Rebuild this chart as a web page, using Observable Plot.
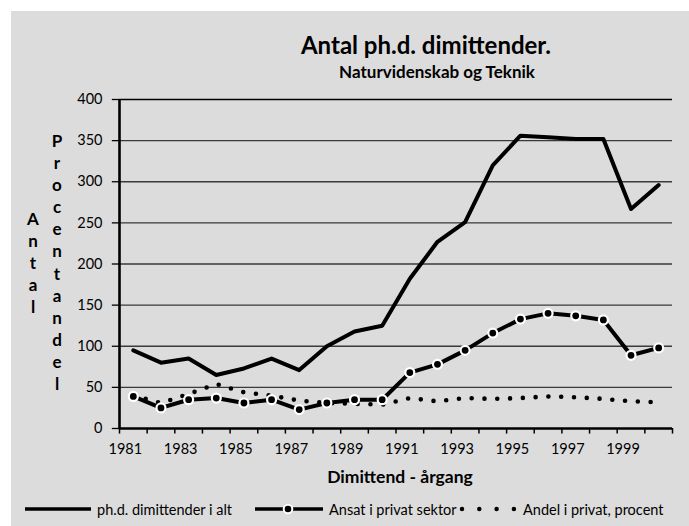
<!DOCTYPE html>
<html>
<head>
<meta charset="utf-8">
<script src="https://cdn.jsdelivr.net/npm/d3@7"></script>
<script src="https://cdn.jsdelivr.net/npm/@observablehq/plot@0.6"></script>
<style>
  body { margin: 0; background: #fff; }
  #wrap { position: relative; width: 689px; height: 526px; overflow: hidden; background: #fff; font-family: Lato, "Open Sans", sans-serif; color: #000; }
  #bg { position: absolute; left: 11px; top: 11px; right: 0; bottom: 0; background: #dcdcdc; }
  #chart { position: absolute; left: 0; top: 0; }
  .t { position: absolute; white-space: nowrap; line-height: 1; }
  .c { transform: translate(-50%, -50%); }
  .vert { writing-mode: vertical-rl; text-orientation: upright; font-weight: bold; font-size: 17px; letter-spacing: 1.1px; transform: translateX(-50%); }
  .leg { position: absolute; top: 499px; height: 20px; display: flex; align-items: center; font-size: 14.5px; white-space: nowrap; }
  .leg svg { display: block; margin-right: 4px; }
</style>
</head>
<body>
<div id="wrap">
  <div id="bg"></div>
  <div id="chart"></div>
  <div class="t c" style="left:426px;top:45px;font-size:24px;font-weight:bold;">Antal ph.d. dimittender.</div>
  <div class="t c" style="left:437px;top:71px;font-size:17px;font-weight:bold;">Naturvidenskab og Teknik</div>
  <div class="t c" style="left:400px;top:477px;font-size:17.5px;font-weight:bold;">Dimittend - årgang</div>
  <div class="t vert" style="left:33px;top:208px;">Antal</div>
  <div class="t vert" style="left:57px;top:130px;">Procentandel</div>
  <div class="leg" style="left:25px;">
    <svg width="68" height="10"><line x1="0" y1="5" x2="66" y2="5" stroke="#000" stroke-width="3.5"/></svg>
    <span>ph.d. dimittender i alt</span>
  </div>
  <div class="leg" style="left:255px;">
    <svg width="70" height="14"><line x1="0" y1="7" x2="68" y2="7" stroke="#000" stroke-width="3.5"/><circle cx="33" cy="7" r="4.3" fill="#000" stroke="#fff" stroke-width="2"/></svg>
    <span>Ansat i privat sektor</span>
  </div>
  <div class="leg" style="left:459px;">
    <svg width="60" height="10"><line x1="3" y1="5" x2="57" y2="5" stroke="#000" stroke-width="4.5" stroke-linecap="round" stroke-dasharray="0 17.3"/></svg>
    <span>Andel i privat, procent</span>
  </div>
</div>
<script>
const years = [1981,1982,1983,1984,1985,1986,1987,1988,1989,1990,1991,1992,1993,1994,1995,1996,1997,1998,1999,2000];
const total = [95,80,85,65,73,85,71,100,118,125,182,227,251,320,356,354,352,352,267,296];
const privat = [39,25,35,37,31,35,23,31,35,35,68,78,95,116,133,140,137,132,89,98];
const andel = [40,31,42,54,44,40,34,31,30,29,37,33,37,36,37,39,38,36,33,32];
const yTicks = [0,50,100,150,200,250,300,350,400];
const xLabels = [1981,1983,1985,1987,1989,1991,1993,1995,1997,1999];

const x0 = years[0] - 0.5, x1 = years[years.length - 1] + 0.5;
const boundaries = d3.range(x0, x1 + 0.01, 1);
const rows = years.map((yr, i) => ({year: yr, total: total[i], privat: privat[i], andel: andel[i]}));

const chart = Plot.plot({
  width: 689,
  height: 526,
  marginLeft: 119,
  marginRight: 17,
  marginTop: 99,
  marginBottom: 98,
  style: {background: "transparent", fontFamily: "Lato, 'Open Sans', sans-serif", fontSize: "14px", color: "#000"},
  x: {type: "linear", domain: [x0, x1], axis: null},
  y: {domain: [0, 400], axis: null},
  marks: [
    Plot.ruleY(yTicks.filter(v => v > 0 && v < 400), {stroke: "#3a3a3a", strokeWidth: 1.3}),
    Plot.ruleY([400], {stroke: "#000", strokeWidth: 1.5}),
    Plot.ruleY(yTicks, {x1: x0 - 0.26, x2: x0, stroke: "#000", strokeWidth: 1.3}),
    Plot.text(yTicks, {x: x0, y: d => d, text: d => String(d), textAnchor: "end", dx: -17, fontSize: 14.5, fill: "#000"}),
    Plot.ruleX(boundaries, {y1: 0, y2: -6.8, stroke: "#000", strokeWidth: 1.5}),
    Plot.text(xLabels, {x: d => d, y: 0, text: d => String(d), dx: -8, dy: 21, fontSize: 14.5, fill: "#000"}),
    Plot.line(rows, {x: "year", y: "andel", stroke: "#000", strokeWidth: 4.6, strokeLinecap: "round", strokeDasharray: "0 12.8"}),
    Plot.line(rows, {x: "year", y: "total", stroke: "#000", strokeWidth: 4}),
    Plot.line(rows, {x: "year", y: "privat", stroke: "#000", strokeWidth: 4}),
    Plot.dot(rows, {x: "year", y: "privat", r: 4.5, fill: "#000", stroke: "#fff", strokeWidth: 2.2}),
    Plot.ruleX([x0], {y1: 0, y2: 400, stroke: "#000", strokeWidth: 2.6}),
    Plot.ruleY([0], {x1: x0, x2: x1, stroke: "#000", strokeWidth: 2.6})
  ]
});
document.getElementById("chart").appendChild(chart);
</script>
</body>
</html>
